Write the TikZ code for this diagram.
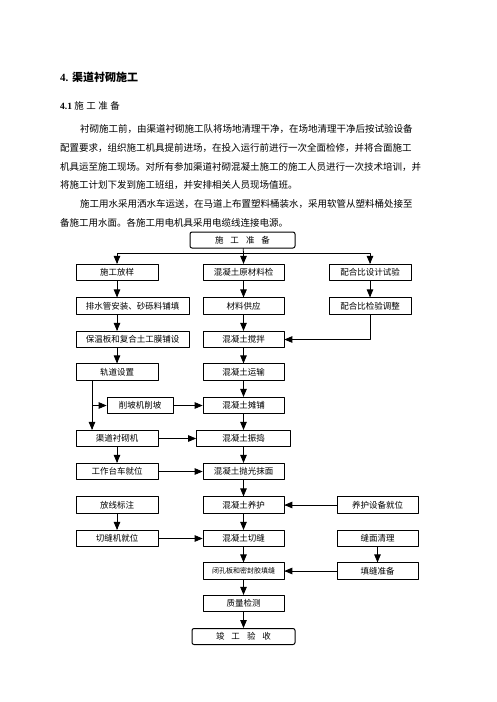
\documentclass[tikz,border=0pt]{standalone}
\usepackage{fontspec}
\setmainfont{Liberation Serif}
\newfontfamily\cjk{Noto Sans CJK SC}
\usetikzlibrary{arrows}
\XeTeXlinebreaklocale "zh"
\XeTeXlinebreakskip=0pt plus 4pt

\tikzset{
  box/.style={draw,line width=0.8pt,minimum height=16.5pt,inner sep=0pt,font=\cjk\fontsize{8.5}{10}\selectfont},
  endbox/.style={box,rounded corners=2pt,minimum height=16pt,line width=1pt},
  bodyline/.style={anchor=west,inner sep=0pt,text width=383pt,align=justify,font=\cjk\fontsize{9.5}{12}\selectfont},
  link/.style={line width=0.8pt}
}

\begin{document}
\begin{tikzpicture}[line cap=round,line join=round,>=triangle 45,x=1pt,y=-1pt]
\useasboundingbox (0,0) rectangle (496,702);
% page text
\node[anchor=west,inner sep=0pt,font=\fontsize{11}{13}\selectfont] (title) at (60,77) {\textbf{4.} {\cjk\bfseries 渠道衬砌施工}};
\node[anchor=west,inner sep=0pt,font=\fontsize{9.5}{12}\selectfont] (subtitle) at (60,106) {\textbf{4.1} {\cjk 施\hspace{2.5pt}工\hspace{2.5pt}准\hspace{2.5pt}备}};
\node[bodyline] (l1) at (60,129) {\parfillskip=0pt\hspace*{20pt}衬砌施工前，由渠道衬砌施工队将场地清理干净，在场地清理干净后按试验设备};
\node[bodyline] (l2) at (60,148) {\parfillskip=0pt 配置要求，组织施工机具提前进场，在投入运行前进行一次全面检修，并将合面施工};
\node[bodyline] (l3) at (60,167) {\parfillskip=0pt 机具运至施工现场。对所有参加渠道衬砌混凝土施工的施工人员进行一次技术培训，并};
\node[bodyline] (l4) at (60,185) {将施工计划下发到施工班组，并安排相关人员现场值班。};
\node[bodyline] (l5) at (60,204) {\parfillskip=0pt\hspace*{20pt}施工用水采用洒水车运送，在马道上布置塑料桶装水，采用软管从塑料桶处接至};
\node[bodyline] (l6) at (60,223) {备施工用水面。各施工用电机具采用电缆线连接电源。};
% flow chart
\node[endbox,minimum width=105pt] (start) at (242.5,240) {施\hspace{7pt}工\hspace{7pt}准\hspace{7pt}备};
\node[box,minimum width=82pt] (a1) at (117,272.5) {施工放样};
\node[box,minimum width=81pt] (b1) at (243.5,272.5) {混凝土原材料检};
\node[box,minimum width=82pt] (c1) at (370,272.5) {配合比设计试验};
\node[box,minimum width=113pt] (a2) at (132.5,306) {排水管安装、砂砾料铺填};
\node[box,minimum width=81pt] (b2) at (243.5,306) {材料供应};
\node[box,minimum width=82pt] (c2) at (370,306) {配合比检验调整};
\node[box,minimum width=113pt] (a3) at (132.5,339.5) {保温板和复合土工膜铺设};
\node[box,minimum width=81pt] (b3) at (243.5,339.5) {混凝土搅拌};
\node[box,minimum width=82pt] (a4) at (117,372) {轨道设置};
\node[box,minimum width=81pt] (b4) at (243.5,372) {混凝土运输};
\node[box,minimum width=66pt] (slope) at (140,405.5) {削坡机削坡};
\node[box,minimum width=81pt] (b5) at (243.5,405.5) {混凝土摊铺};
\node[box,minimum width=82pt] (a6) at (117,438.5) {渠道衬砌机};
\node[box,minimum width=94pt] (b6) at (243.5,438.5) {混凝土振捣};
\node[box,minimum width=82pt] (a7) at (117,471.5) {工作台车就位};
\node[box,minimum width=81pt] (b7) at (243.5,471.5) {混凝土抛光抹面};
\node[box,minimum width=82pt] (a8) at (117,505) {放线标注};
\node[box,minimum width=81pt] (b8) at (243.5,505) {混凝土养护};
\node[box,minimum width=81pt] (c8) at (377.5,505) {养护设备就位};
\node[box,minimum width=82pt] (a9) at (117,538.5) {切缝机就位};
\node[box,minimum width=81pt] (b9) at (243.5,538.5) {混凝土切缝};
\node[box,minimum width=81pt] (c9) at (377.5,538.5) {缝面清理};
\node[box,minimum width=81pt,font=\cjk\fontsize{7}{9}\selectfont] (b10) at (243.5,571) {闭孔板和密封胶填缝};
\node[box,minimum width=81pt] (c10) at (377.5,571) {填缝准备};
\node[box,minimum width=81pt] (b11) at (243.5,603.5) {质量检测};
\node[endbox,minimum width=103pt] (end) at (243.5,636.5) {竣\hspace{7pt}工\hspace{7pt}验\hspace{7pt}收};
\coordinate (split) at (243.5,253);
% connectors
\draw[link] (start) -- (split);
\draw[link,->] (split) -| (a1);
\draw[link,->] (split) -- (b1);
\draw[link,->] (split) -| (c1);
\foreach \u/\v in {b1/b2,b2/b3,b3/b4,b4/b5,b5/b6,b6/b7,b7/b8,b8/b9,b9/b10,b10/b11,b11/end}
  \draw[link,->] (\u) -- (\v);
\draw[link,->] (a1) -- (a1 |- a2.north);
\draw[link,->] (a2.south -| a1) -- (a3.north -| a1);
\draw[link,->] (a3.south -| a1) -- (a4);
\draw[link,->] ([xshift=-25pt]a4.south) -- ([xshift=-25pt]a4.south |- a6.north);
\draw[link,->] ([xshift=-25pt]a4.south) |- (slope);
\draw[link,->] (slope) -- (b5);
\draw[link,->] (a6) -- (b6);
\draw[link,->] (a6) -- (a7);
\draw[link,->] (a7) -- (b7);
\draw[link,->] (a8) -- (a9);
\draw[link,->] (a9) -- (b9);
\draw[link,->] (c1) -- (c2);
\draw[link,->] (c2) |- (b3);
\draw[link,->] (c8) -- (b8);
\draw[link,->] (c9) -- (c10);
\draw[link,->] (c10) -- (b10);
\end{tikzpicture}
\end{document}
